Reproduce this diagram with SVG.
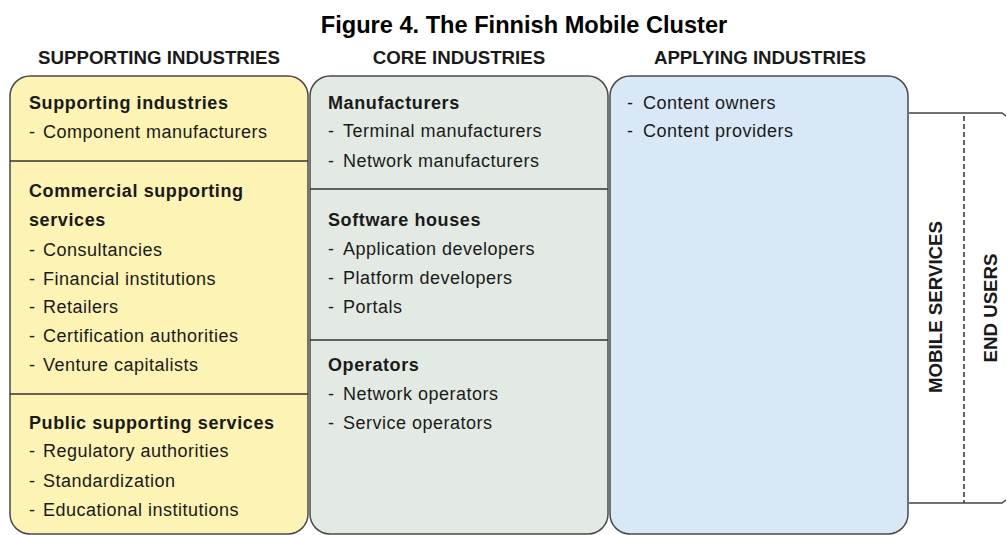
<svg xmlns="http://www.w3.org/2000/svg" width="1007" height="535" viewBox="0 0 1007 535">
<style>
.title{font-family:"Liberation Sans",Arial,sans-serif;font-weight:bold;font-size:23.6px;fill:#000;text-anchor:middle}
.hdr{font-family:"Liberation Sans",Arial,sans-serif;font-weight:bold;font-size:18.7px;fill:#1a1a1a;text-anchor:middle}
.vhdr{font-family:"Liberation Sans",Arial,sans-serif;font-weight:bold;font-size:18.7px;fill:#1a1a1a;text-anchor:middle}
.h{font-family:"Liberation Sans",Arial,sans-serif;font-weight:bold;font-size:18px;letter-spacing:0.6px;fill:#1a1a1a}
.t{font-family:"Liberation Sans",Arial,sans-serif;font-size:18px;letter-spacing:0.5px;fill:#1a1a1a}
.panel{stroke:#4a4a4a;stroke-width:1.5}
.div{stroke:#333;stroke-width:1.5}
.br{stroke:#444;stroke-width:1.5;fill:none}
.dash{stroke:#333;stroke-width:1.5;stroke-dasharray:5 3;fill:none}
</style>
<rect width="1007" height="535" fill="#fff"/>
<text class="title" x="524" y="33">Figure 4. The Finnish Mobile Cluster</text>
<text class="hdr" x="159" y="64">SUPPORTING INDUSTRIES</text>
<text class="hdr" x="459" y="64">CORE INDUSTRIES</text>
<text class="hdr" x="760" y="64">APPLYING INDUSTRIES</text>

<g id="supporting">
<rect class="panel" x="10" y="76" width="298" height="458" rx="20" fill="#fcf3b4"/>
<line class="div" x1="10" y1="161" x2="308" y2="161"/>
<line class="div" x1="10" y1="394" x2="308" y2="394"/>
<text class="h" x="29" y="109">Supporting industries</text>
<text class="t" x="29" y="138">-<tspan x="43">Component manufacturers</tspan></text>
<text class="h" x="29" y="197">Commercial supporting</text>
<text class="h" x="29" y="226">services</text>
<text class="t" x="29" y="256">-<tspan x="43">Consultancies</tspan></text>
<text class="t" x="29" y="285">-<tspan x="43">Financial institutions</tspan></text>
<text class="t" x="29" y="313">-<tspan x="43">Retailers</tspan></text>
<text class="t" x="29" y="342">-<tspan x="43">Certification authorities</tspan></text>
<text class="t" x="29" y="371">-<tspan x="43">Venture capitalists</tspan></text>
<text class="h" x="29" y="429">Public supporting services</text>
<text class="t" x="29" y="457">-<tspan x="43">Regulatory authorities</tspan></text>
<text class="t" x="29" y="487">-<tspan x="43">Standardization</tspan></text>
<text class="t" x="29" y="516">-<tspan x="43">Educational institutions</tspan></text>
</g>

<g id="core">
<rect class="panel" x="310" y="76" width="298" height="458" rx="20" fill="#e2eae3"/>
<line class="div" x1="310" y1="189" x2="608" y2="189"/>
<line class="div" x1="310" y1="340" x2="608" y2="340"/>
<text class="h" x="328" y="109">Manufacturers</text>
<text class="t" x="328" y="137">-<tspan x="343">Terminal manufacturers</tspan></text>
<text class="t" x="328" y="167">-<tspan x="343">Network manufacturers</tspan></text>
<text class="h" x="328" y="226">Software houses</text>
<text class="t" x="328" y="255">-<tspan x="343">Application developers</tspan></text>
<text class="t" x="328" y="284">-<tspan x="343">Platform developers</tspan></text>
<text class="t" x="328" y="313">-<tspan x="343">Portals</tspan></text>
<text class="h" x="328" y="371">Operators</text>
<text class="t" x="328" y="400">-<tspan x="343">Network operators</tspan></text>
<text class="t" x="328" y="429">-<tspan x="343">Service operators</tspan></text>
</g>

<g id="applying">
<rect class="panel" x="610" y="76" width="298" height="458" rx="20" fill="#d9e8f6"/>
<text class="t" x="627" y="109">-<tspan x="643">Content owners</tspan></text>
<text class="t" x="627" y="137">-<tspan x="643">Content providers</tspan></text>
</g>

<g id="connectors">
<path class="br" d="M909 113 H1002 L1006 116"/>
<path class="br" d="M909 503 H1002 L1006 500"/>
<line class="dash" x1="964" y1="116" x2="964" y2="503"/>
</g>

<g id="mobile-services">
<text class="vhdr" transform="translate(942 307) rotate(-90)">MOBILE SERVICES</text>
</g>
<g id="end-users">
<text class="vhdr" transform="translate(997 308) rotate(-90)">END USERS</text>
</g>
</svg>
